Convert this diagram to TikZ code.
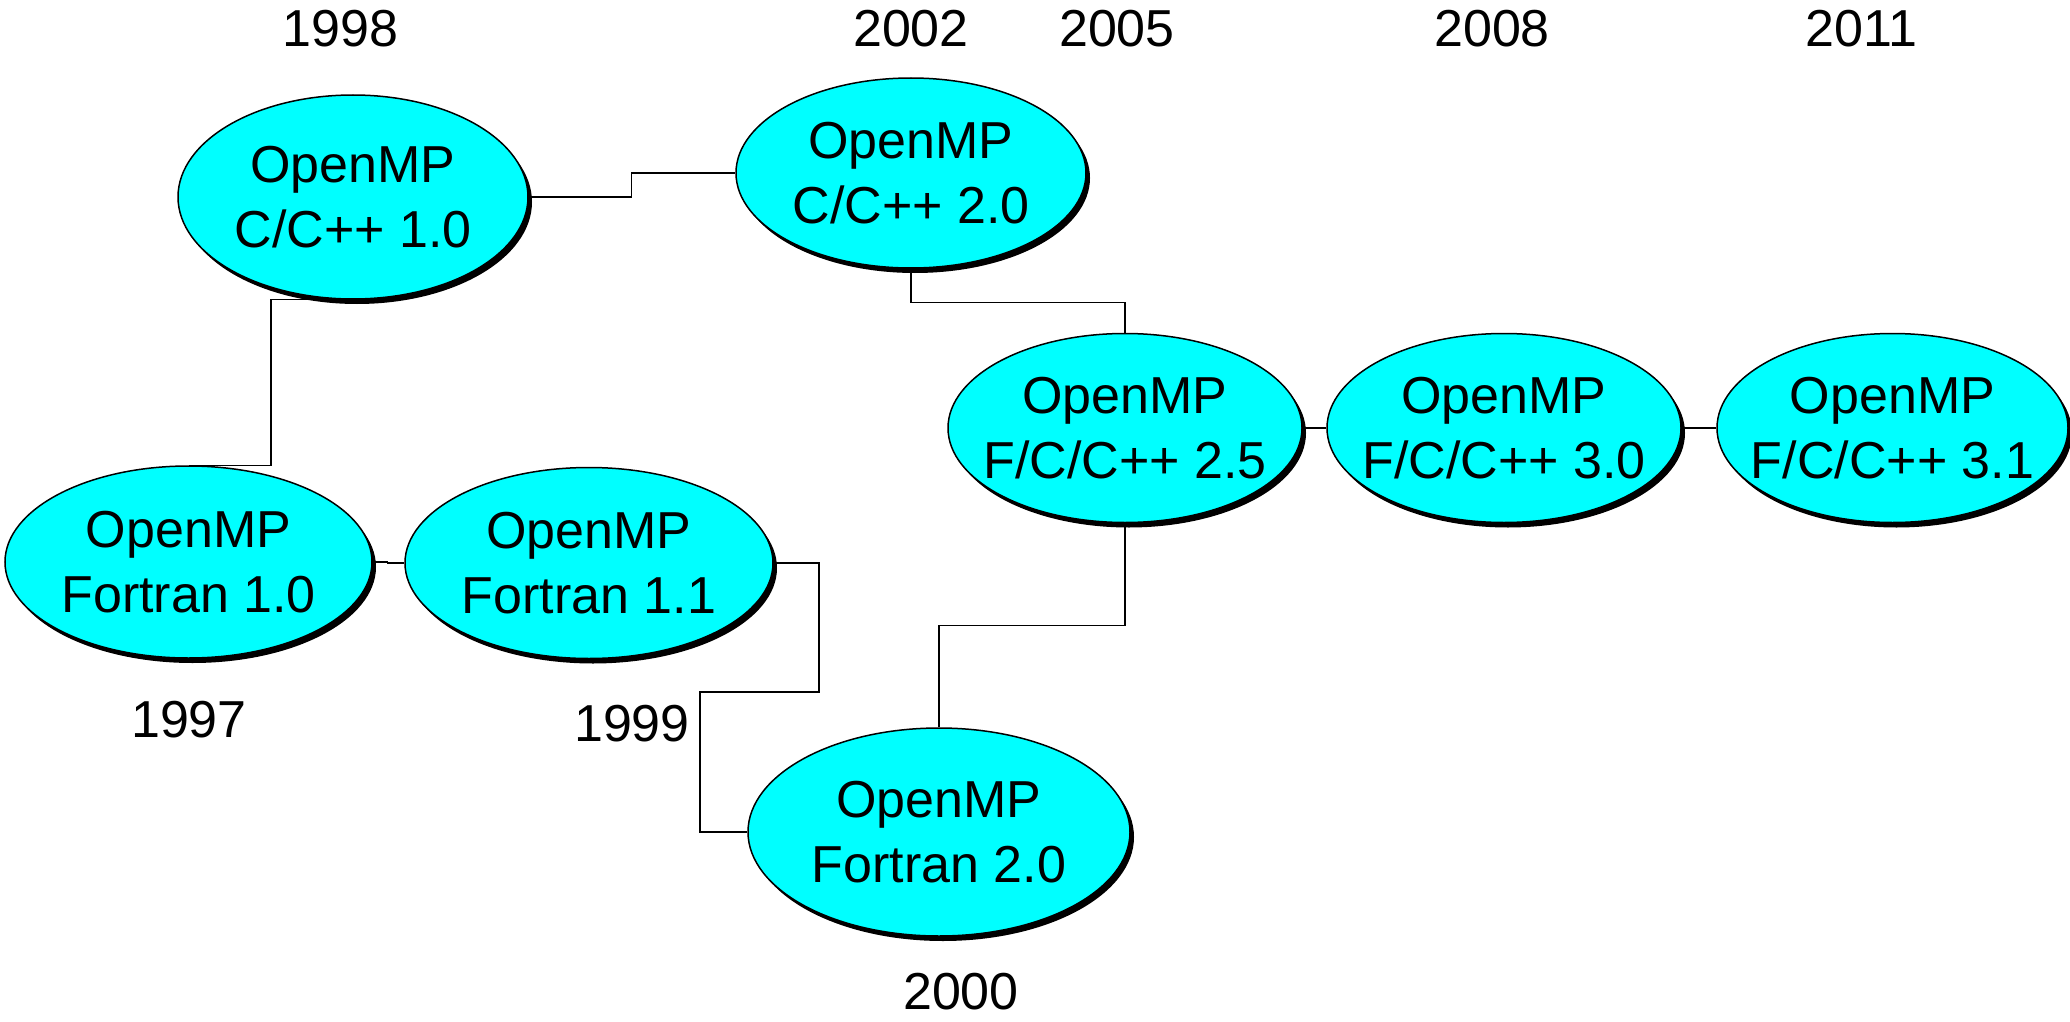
\documentclass[tikz,border=0pt]{standalone}
\usepackage{fontspec}
\setmainfont{Liberation Sans}
\usetikzlibrary{shapes.geometric,shadows,backgrounds}
\definecolor{aqua}{RGB}{0,255,255}
\newcommand\zc[1]{\makebox[0pt]{#1}}
\begin{document}
\begin{tikzpicture}[x=1pt,y=-1pt,
  ver/.style={ellipse, draw=black, line width=1.5pt, fill=aqua, inner sep=0pt,
    align=center, font=\fontsize{52}{65}\selectfont,
    drop shadow={shadow xshift=4pt, shadow yshift=-5pt, fill=black, opacity=1}},
  yr/.style={font=\fontsize{52}{65}\selectfont, inner sep=0pt},
  conn/.style={draw=black, line width=1.2pt}]
\useasboundingbox (0,0) rectangle (2070,1022);

\node[ver, minimum width=350pt, minimum height=204pt] (c10) at (353,197) {\zc{OpenMP}\\\zc{C/C++ 1.0}};
\node[ver, minimum width=350pt, minimum height=190pt] (c20) at (911,173) {\zc{OpenMP}\\\zc{C/C++ 2.0}};
\node[ver, minimum width=367pt, minimum height=192pt] (f10) at (188.5,562) {\zc{OpenMP}\\\zc{Fortran 1.0}};
\node[ver, minimum width=368pt, minimum height=191pt] (f11) at (589,563) {\zc{OpenMP}\\\zc{Fortran 1.1}};
\node[ver, minimum width=382pt, minimum height=208pt] (f20) at (939,832) {\zc{OpenMP}\\\zc{Fortran 2.0}};
\node[ver, minimum width=354pt, minimum height=189pt] (v25) at (1125,428) {\zc{OpenMP}\\\zc{F/C/C++ 2.5}};
\node[ver, minimum width=354pt, minimum height=189pt] (v30) at (1504,428) {\zc{OpenMP}\\\zc{F/C/C++ 3.0}};
\node[ver, minimum width=351pt, minimum height=189pt] (v31) at (1892.5,428) {\zc{OpenMP}\\\zc{F/C/C++ 3.1}};

\node[yr] (y1998) at (340.6,29) {1998};
\node[yr] (y2002) at (911,29) {2002};
\node[yr] (y2005) at (1117,29) {2005};
\node[yr] (y2008) at (1492,29) {2008};
\node[yr] (y2011) at (1861.5,29) {2011};
\node[yr] (y1997) at (189,719.5) {1997};
\node[yr] (y1999) at (632,723.5) {1999};
\node[yr] (y2000) at (961,992) {2000};

\coordinate (j1) at (819,692);
\coordinate (j2) at (700,692);

\begin{scope}[on background layer]
\draw[conn] (c10.east) -- ++(103,0) |- (c20.west);
\draw[conn] (c10.south) -- ++(-82,0) |- (f10.north);
\draw[conn] (c20.south) -- ++(0,34) -| (v25.north);
\draw[conn] (f10.east) -- ++(15,0) |- (f11.west);
\draw[conn] (f11.east) -| (j1) -- (j2) |- (f20.west);
\draw[conn] (f20.north) -- ++(0,-102) -| (v25.south);
\draw[conn] (v25.east) -- (v30.west);
\draw[conn] (v30.east) -- (v31.west);
\end{scope}
\end{tikzpicture}
\end{document}
